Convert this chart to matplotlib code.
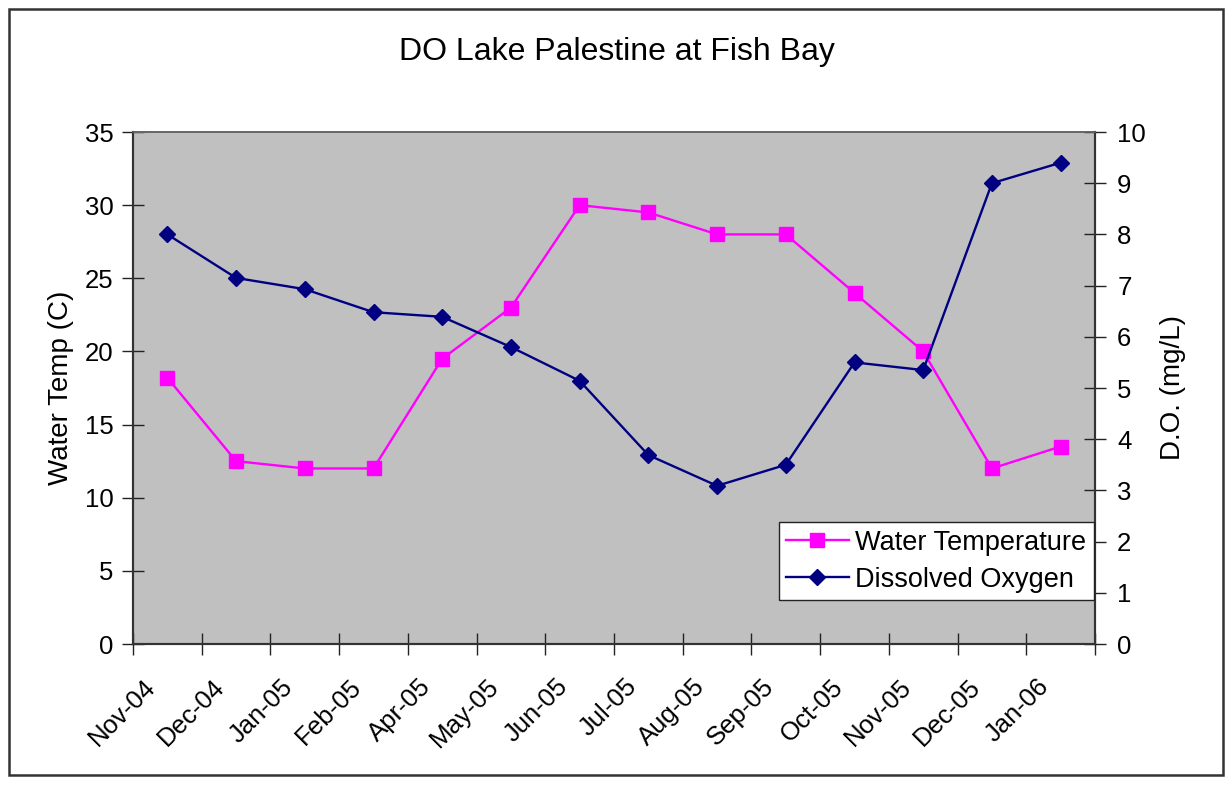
import matplotlib
matplotlib.use("Agg")
import matplotlib.pyplot as plt
from matplotlib.patches import Rectangle
import matplotlib.transforms as mtransforms
import numpy as np

plt.rcParams['font.family'] = ['Liberation Sans', 'DejaVu Sans']

months = ["Nov-04", "Dec-04", "Jan-05", "Feb-05", "Apr-05", "May-05", "Jun-05",
          "Jul-05", "Aug-05", "Sep-05", "Oct-05", "Nov-05", "Dec-05", "Jan-06"]
water_temp = [18.2, 12.5, 12.0, 12.0, 19.5, 23.0, 30.0, 29.5, 28.0, 28.0, 24.0, 20.0, 12.0, 13.5]
dissolved_oxygen = [8.0, 7.15, 6.93, 6.48, 6.39, 5.8, 5.14, 3.69, 3.09, 3.5, 5.5, 5.35, 9.0, 9.4]

W, H = 1226, 786
fig = plt.figure(figsize=(W / 100, H / 100), dpi=100)
fig.patch.set_facecolor("white")

# outer chart border
fig.patches.append(Rectangle((9 / W, 1 - 775 / H), (1223 - 9) / W, (775 - 9) / H,
                             transform=fig.transFigure, fill=False,
                             edgecolor="#333333", linewidth=1.8, zorder=0))

left, right, top, bottom = 133, 1095, 132, 644
ax = fig.add_axes([left / W, 1 - bottom / H, (right - left) / W, (bottom - top) / H])
ax.set_facecolor("#c0c0c0")
ax2 = ax.twinx()

x = np.arange(len(months))
l1, = ax.plot(x, water_temp, color="#ff00ff", lw=1.7, marker="s", ms=10,
              mfc="#ff00ff", mec="#ff00ff", label="Water Temperature", zorder=3)
l2, = ax2.plot(x, dissolved_oxygen, color="#000080", lw=1.7, marker="D", ms=8.5,
               mfc="#000080", mec="#000080", label="Dissolved Oxygen", zorder=3)

ax.set_xlim(-0.5, len(months) - 0.5)
ax.set_ylim(0, 35)
ax2.set_ylim(0, 10)
ax.set_yticks(np.arange(0, 36, 5))
ax2.set_yticks(np.arange(0, 11, 1))

ax.set_xticks(np.arange(-0.5, len(months), 1))
ax.set_xticklabels([])
ax.set_xticks(x, minor=True)
ax.set_xticklabels(months, minor=True, rotation=45, ha="right", va="top",
                   fontsize=18.5)
ax.tick_params(axis="x", which="minor", length=0, pad=22)
offset = mtransforms.ScaledTranslation(-7 / 100, 0, fig.dpi_scale_trans)
for lab in ax.get_xticklabels(minor=True):
    lab.set_transform(lab.get_transform() + offset)

ax.tick_params(axis="x", which="major", direction="inout", length=16, width=1, color="#222222")
ax.tick_params(axis="y", direction="inout", length=16, width=1, color="#222222",
               labelsize=18.5, pad=6)
ax2.tick_params(axis="y", direction="inout", length=16, width=1, color="#222222",
                labelsize=18.5, pad=8)

for a in (ax, ax2):
    for s in a.spines.values():
        s.set_color("#333333")
        s.set_linewidth(1.5)
    a.spines["top"].set_color("#666666")
    a.spines["top"].set_linewidth(1.2)

ax.set_ylabel("Water Temp (C)", fontsize=20, labelpad=8)
ax2.set_ylabel("D.O. (mg/L)", fontsize=20, labelpad=10)

fig.text(617 / W, 1 - 52 / H, "DO Lake Palestine at Fish Bay", ha="center",
         va="center", fontsize=23)

leg = ax2.legend([l1, l2], ["Water Temperature", "Dissolved Oxygen"],
                 loc="lower right", bbox_to_anchor=(0.999, 0.085),
                 fontsize=19.5, frameon=True, fancybox=False, framealpha=1,
                 edgecolor="#222222", borderpad=0.28, handlelength=2.3,
                 labelspacing=0.42, handletextpad=0.25, borderaxespad=0)
leg.get_frame().set_linewidth(1.0)

fig.savefig("out.png", dpi=100, facecolor="white")
